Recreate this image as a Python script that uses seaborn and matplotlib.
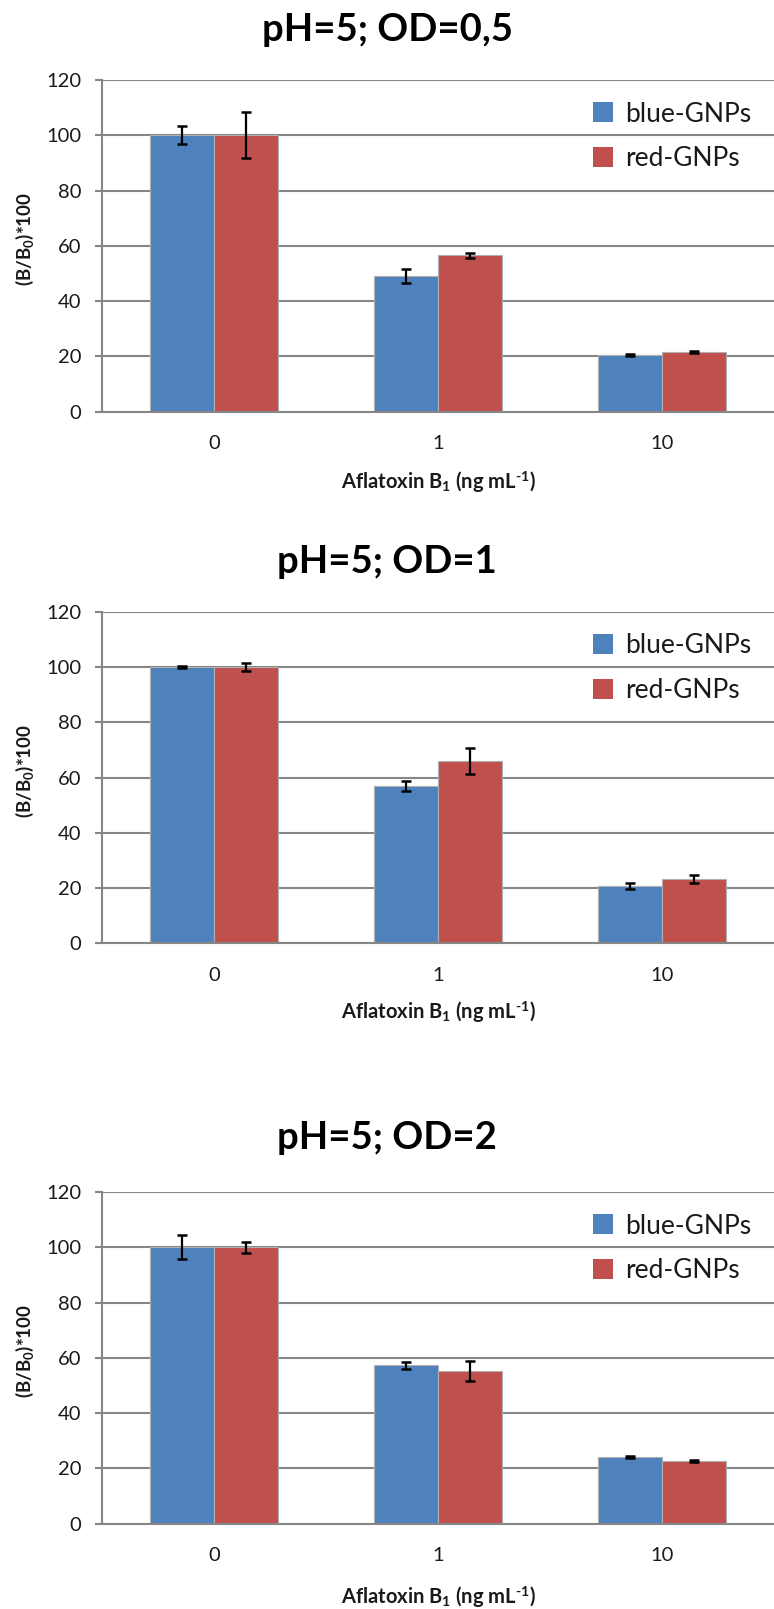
import numpy as np
import pandas as pd
import matplotlib
matplotlib.use('Agg')
import matplotlib.pyplot as plt
import seaborn as sns
from matplotlib.patches import Patch

# ---- data ----
concentrations = ['0', '1', '10']
series = ['blue-GNPs', 'red-GNPs']
titles = ['pH=5; OD=0,5', 'pH=5; OD=1', 'pH=5; OD=2']
blue_means = [[100, 49.0, 20.4], [100, 56.9, 20.8], [100, 57.3, 24.1]]
blue_err = [[3.3, 2.6, 0.3], [0.3, 1.9, 1.2], [4.3, 1.3, 0.3]]
red_means = [[100, 56.6, 21.6], [100, 66.1, 23.2], [100, 55.2, 22.8]]
red_err = [[8.3, 0.9, 0.3], [1.5, 4.7, 1.5], [2.0, 3.6, 0.4]]
y_ticks = [0, 20, 40, 60, 80, 100, 120]

BLUE = '#4F81BD'
RED = '#C0504D'
GRID = '#868686'
TXT = '#1a1a1a'

sns.set_theme(style='white')
plt.rcParams['font.family'] = ['Lato', 'DejaVu Sans']
plt.rcParams['mathtext.fontset'] = 'custom'
plt.rcParams['mathtext.rm'] = 'Lato'
plt.rcParams['mathtext.bf'] = 'Lato:bold'
plt.rcParams['mathtext.it'] = 'Lato:italic'

W, H = 774, 1609
fig = plt.figure(figsize=(W / 100, H / 100), dpi=100)
fig.patch.set_facecolor('white')

tops = [80, 611.7, 1192]
title_y = [30, 562, 1138]
xlabel_y = [482, 1012, 1597]
ax_h = 331.7
ax_left = 102
ax_w = 672

for i in range(3):
    top = tops[i]
    bottom = top + ax_h
    ax = fig.add_axes([ax_left / W, 1 - bottom / H, ax_w / W, ax_h / H])
    df = pd.DataFrame({
        'conc': concentrations * 2,
        'series': [series[0]] * 3 + [series[1]] * 3,
        'value': blue_means[i] + red_means[i],
    })
    sns.barplot(data=df, x='conc', y='value', hue='series', order=concentrations,
                hue_order=series, palette=[BLUE, RED], saturation=1, width=0.57,
                gap=0, errorbar=None, edgecolor='#b0b0b0', linewidth=0.8,
                ax=ax, zorder=2, legend=False)
    for cont, e in zip(ax.containers, [blue_err[i], red_err[i]]):
        xs = [p.get_x() + p.get_width() / 2 for p in cont]
        hs = [p.get_height() for p in cont]
        ax.errorbar(xs, hs, yerr=e, fmt='none', ecolor='black', elinewidth=1.6,
                    capsize=3.8, capthick=1.8, zorder=3)

    ax.set_ylim(0, 120)
    ax.set_xlim(-0.5, 2.5)
    ax.set_yticks(y_ticks)
    ax.set_yticklabels([str(t) for t in y_ticks])
    ax.yaxis.grid(True, color=GRID, linewidth=1.5)
    ax.xaxis.grid(False)
    ax.set_axisbelow(True)
    for s in ['top', 'right']:
        ax.spines[s].set_visible(False)
    for s in ['left', 'bottom']:
        ax.spines[s].set_color(GRID)
        ax.spines[s].set_linewidth(1.5)
    ax.set_xticks([0, 1, 2])
    ax.set_xticklabels(concentrations)
    ax.set_xticks([-0.5, 0.5, 1.5, 2.5], minor=True)
    ax.tick_params(axis='x', which='major', length=0, pad=17, labelsize=14.5, labelcolor=TXT)
    ax.tick_params(axis='x', which='minor', length=6, width=1.5, color=GRID, direction='out')
    ax.tick_params(axis='y', which='major', length=5, width=1.5, color=GRID, direction='out',
                   pad=10, labelsize=14.5, labelcolor=TXT, left=True)
    ax.set_xlabel('')
    ax.set_ylabel('')

    ax.text(-77 / ax_w, 0.52, r'(B/B$_\mathbf{0}$)*100', transform=ax.transAxes,
            rotation=90, ha='center', va='center', fontsize=13.5, fontweight='bold',
            color=TXT)
    ax.text(0.5, -(xlabel_y[i] - bottom) / ax_h,
            'Aflatoxin B$_\\mathbf{1}$ (ng mL$^\\mathbf{\u2010 1}$)', transform=ax.transAxes,
            ha='center', va='center', fontsize=14.5, fontweight='bold', color=TXT)
    fig.text(0.5, 1 - title_y[i] / H, titles[i], ha='center', va='center',
             fontsize=27.5, fontweight='bold', color='black')

    handles = [Patch(facecolor=BLUE, edgecolor='none'), Patch(facecolor=RED, edgecolor='none')]
    ax.legend(handles, series, loc='upper left', bbox_to_anchor=(0.73, 0.935),
              frameon=False, fontsize=19, handlelength=0.78, handleheight=0.78,
              handletextpad=0.45, labelspacing=0.75, borderpad=0, borderaxespad=0,
              labelcolor=TXT)

fig.savefig('out.png', dpi=100, facecolor='white')
